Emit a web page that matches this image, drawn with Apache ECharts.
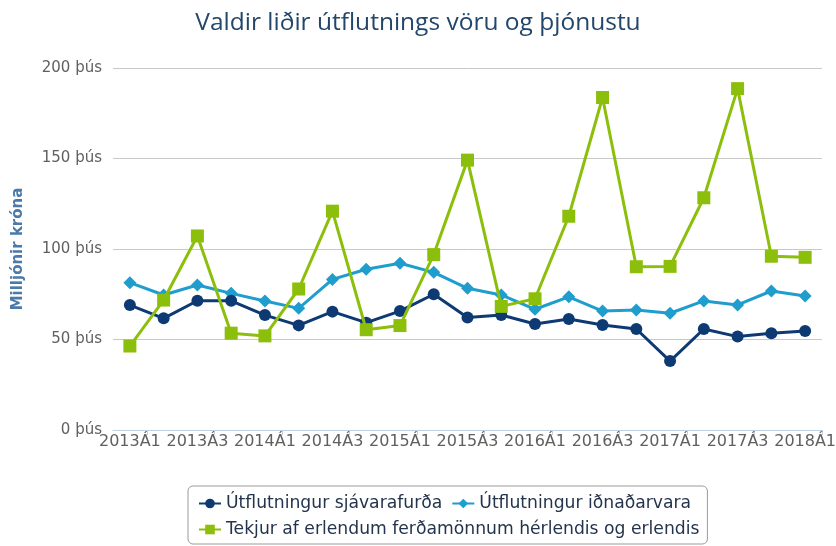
<!DOCTYPE html>
<html>
<head>
<meta charset="utf-8">
<script src="https://cdn.jsdelivr.net/npm/echarts@6/dist/echarts.min.js"></script>
<style>
  html, body { margin: 0; padding: 0; background: #fff; }
  #chart { width: 836px; height: 546px; }
</style>
</head>
<body>
<div id="chart"></div>
<script>
// Quarterly categories, 2013Á1 – 2018Á1
const categories = [
  '2013Á1','2013Á2','2013Á3','2013Á4',
  '2014Á1','2014Á2','2014Á3','2014Á4',
  '2015Á1','2015Á2','2015Á3','2015Á4',
  '2016Á1','2016Á2','2016Á3','2016Á4',
  '2017Á1','2017Á2','2017Á3','2017Á4',
  '2018Á1'
];

// Values in thousands of millions ISK (þús)
const sjavarafurdir = [69, 61.7, 71.4, 71.4, 63.5, 57.8, 65.4, 59.3, 65.7, 75, 62.1,
  63.5, 58.6, 61.3, 58, 55.8, 38.1, 55.8, 51.6, 53.4, 54.7];
const idnadarvorur = [81.4, 74.6, 80.1, 75.5, 71.3, 67.2, 83.2, 88.8, 92.1, 87.1, 78.3,
  74.6, 66.7, 73.6, 65.7, 66.3, 64.5, 71.3, 69.1, 76.8, 74.0];
const ferdamenn = [46.4, 71.8, 107.2, 53.5, 52, 77.9, 120.9, 55.4, 57.7, 96.9, 149.1,
  68.3, 72.5, 118.1, 183.7, 90.2, 90.4, 128.3, 188.6, 96, 95.4];

const seriesNames = [
  'Útflutningur sjávarafurða',
  'Útflutningur iðnaðarvara',
  'Tekjur af erlendum ferðamönnum hérlendis og erlendis'
];

const titleFont = '"Open Sans", "Noto Sans", sans-serif';
const font = '"DejaVu Sans", Verdana, sans-serif';
const chart = echarts.init(document.getElementById('chart'), null, { renderer: 'canvas' });

chart.setOption({
  animation: false,
  backgroundColor: '#ffffff',
  title: {
    text: 'Valdir liðir útflutnings vöru og þjónustu',
    left: 'center',
    top: 6,
    textStyle: { fontFamily: titleFont, fontSize: 24.5, fontWeight: 'normal', color: '#23466b' }
  },
  grid: { left: 113, right: 14, top: 68, bottom: 116, containLabel: false, outerBoundsMode: 'none' },
  legend: {
    left: 188,
    top: 486,
    width: 505,
    padding: [9, 8, 6, 10],
    itemGap: 9,
    itemWidth: 22,
    itemHeight: 12,
    borderColor: '#9a9a9a',
    borderWidth: 1,
    borderRadius: 5,
    textStyle: { fontFamily: font, fontSize: 17.2, color: '#24344d' },
    data: seriesNames
  },
  xAxis: {
    type: 'category',
    data: categories,
    boundaryGap: true,
    axisLine: { lineStyle: { color: '#c0d0e0', width: 1 } },
    axisTick: {
      show: true,
      length: 5,
      interval: function (i) { return i % 2 === 1; },
      lineStyle: { color: '#c0d0e0' }
    },
    axisLabel: {
      interval: 1,
      margin: 4,
      fontFamily: font,
      fontSize: 16,
      color: '#606060'
    },
    splitLine: { show: false }
  },
  yAxis: {
    type: 'value',
    min: 0,
    max: 200,
    interval: 50,
    name: 'Milljónir króna',
    nameLocation: 'middle',
    nameGap: 87,
    nameTextStyle: { fontFamily: font, fontSize: 15, fontWeight: 'bold', color: '#4b7aa9' },
    axisLine: { show: false },
    axisTick: { show: false },
    axisLabel: {
      margin: 11,
      fontFamily: font,
      fontSize: 15,
      color: '#606060',
      formatter: function (v) { return v + ' þús'; }
    },
    splitLine: { lineStyle: { color: '#c8c8c8', width: 1 } }
  },
  series: [
    {
      name: seriesNames[0],
      type: 'line',
      data: sjavarafurdir,
      color: '#0d3a72',
      symbol: 'circle',
      symbolSize: 12,
      lineStyle: { width: 3 },
      z: 3
    },
    {
      name: seriesNames[1],
      type: 'line',
      data: idnadarvorur,
      color: '#1f9dcd',
      symbol: 'diamond',
      symbolSize: 13,
      lineStyle: { width: 3 },
      z: 2
    },
    {
      name: seriesNames[2],
      type: 'line',
      data: ferdamenn,
      color: '#8cbf0c',
      symbol: 'rect',
      symbolSize: 13,
      lineStyle: { width: 3 },
      z: 4
    }
  ]
});
</script>
</body>
</html>
